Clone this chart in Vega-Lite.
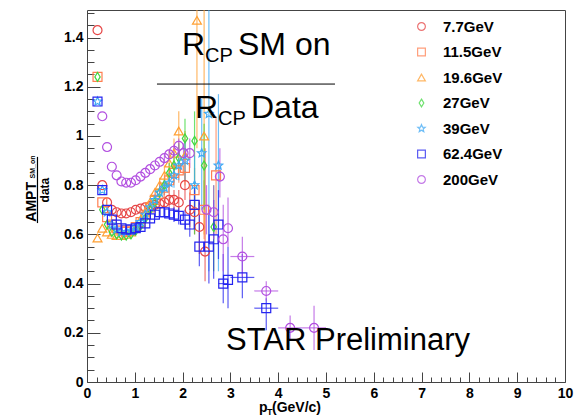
{
  "$schema": "https://vega.github.io/schema/vega-lite/v6.json",
  "width": 478,
  "height": 372,
  "autosize": {"type": "none"},
  "padding": {"left": 87, "top": 10, "right": 9, "bottom": 34},
  "background": "white",
  "config": {
    "view": {"stroke": "#444", "strokeWidth": 1},
    "font": "Liberation Sans",
    "axis": {"grid": false, "domain": false, "tickColor": "#444", "labelFont": "Liberation Sans", "labelFontWeight": "bold", "labelFontSize": 14, "labelColor": "#000", "title": null},
    "legend": {"title": null, "orient": "none", "legendX": 327, "legendY": 9, "labelFontSize": 15, "labelFont": "Liberation Sans", "labelFontWeight": "bold", "labelColor": "#000", "symbolSize": 60, "symbolStrokeWidth": 1.2, "rowPadding": 9.5, "labelOffset": 14, "padding": 0, "labelLimit": 200}
  },
  "data": {"values": [
    {"s":"7.7GeV","x":0.22,"y":1.43},{"s":"7.7GeV","x":0.32,"y":0.80},{"s":"7.7GeV","x":0.42,"y":0.73},{"s":"7.7GeV","x":0.52,"y":0.70},{"s":"7.7GeV","x":0.62,"y":0.69},{"s":"7.7GeV","x":0.72,"y":0.685},{"s":"7.7GeV","x":0.82,"y":0.685},{"s":"7.7GeV","x":0.92,"y":0.69},{"s":"7.7GeV","x":1.02,"y":0.70},{"s":"7.7GeV","x":1.12,"y":0.705},{"s":"7.7GeV","x":1.22,"y":0.71},{"s":"7.7GeV","x":1.32,"y":0.715},{"s":"7.7GeV","x":1.42,"y":0.72},{"s":"7.7GeV","x":1.52,"y":0.725,"ylo":0.71,"yhi":0.74},{"s":"7.7GeV","x":1.62,"y":0.73,"ylo":0.71,"yhi":0.75},{"s":"7.7GeV","x":1.72,"y":0.74,"ylo":0.71,"yhi":0.77},{"s":"7.7GeV","x":1.82,"y":0.74,"ylo":0.70,"yhi":0.78},{"s":"7.7GeV","x":1.92,"y":0.73,"ylo":0.68,"yhi":0.78},{"s":"7.7GeV","x":2.05,"y":0.80,"ylo":0.74,"yhi":0.86},{"s":"7.7GeV","x":2.15,"y":0.70,"ylo":0.63,"yhi":0.77},{"s":"7.7GeV","x":2.25,"y":0.69,"ylo":0.60,"yhi":0.78},{"s":"7.7GeV","x":2.35,"y":0.63,"ylo":0.52,"yhi":0.74},{"s":"7.7GeV","x":2.47,"y":0.53,"ylo":0.41,"yhi":0.95},
    {"s":"11.5GeV","x":0.22,"y":1.24},{"s":"11.5GeV","x":0.32,"y":0.73},{"s":"11.5GeV","x":0.42,"y":0.67},{"s":"11.5GeV","x":0.52,"y":0.64},{"s":"11.5GeV","x":0.62,"y":0.625},{"s":"11.5GeV","x":0.72,"y":0.615},{"s":"11.5GeV","x":0.82,"y":0.61},{"s":"11.5GeV","x":0.92,"y":0.615},{"s":"11.5GeV","x":1.02,"y":0.63},{"s":"11.5GeV","x":1.12,"y":0.65},{"s":"11.5GeV","x":1.22,"y":0.68},{"s":"11.5GeV","x":1.32,"y":0.71},{"s":"11.5GeV","x":1.42,"y":0.74},{"s":"11.5GeV","x":1.52,"y":0.765,"ylo":0.745,"yhi":0.785},{"s":"11.5GeV","x":1.62,"y":0.79,"ylo":0.76,"yhi":0.82},{"s":"11.5GeV","x":1.72,"y":0.82,"ylo":0.79,"yhi":0.85},{"s":"11.5GeV","x":1.82,"y":0.85,"ylo":0.81,"yhi":0.89},{"s":"11.5GeV","x":1.92,"y":0.86,"ylo":0.81,"yhi":0.91},{"s":"11.5GeV","x":2.05,"y":0.87,"ylo":0.80,"yhi":0.94},{"s":"11.5GeV","x":2.25,"y":0.78,"ylo":0.69,"yhi":0.87},{"s":"11.5GeV","x":2.45,"y":0.70,"ylo":0.58,"yhi":0.82},{"s":"11.5GeV","x":2.7,"y":0.84,"ylo":0.60,"yhi":1.08},
    {"s":"19.6GeV","x":0.22,"y":0.585},{"s":"19.6GeV","x":0.32,"y":0.625},{"s":"19.6GeV","x":0.42,"y":0.61},{"s":"19.6GeV","x":0.52,"y":0.60},{"s":"19.6GeV","x":0.62,"y":0.595},{"s":"19.6GeV","x":0.72,"y":0.595},{"s":"19.6GeV","x":0.82,"y":0.60},{"s":"19.6GeV","x":0.92,"y":0.61},{"s":"19.6GeV","x":1.02,"y":0.63},{"s":"19.6GeV","x":1.12,"y":0.66},{"s":"19.6GeV","x":1.22,"y":0.69},{"s":"19.6GeV","x":1.32,"y":0.73},{"s":"19.6GeV","x":1.42,"y":0.77},{"s":"19.6GeV","x":1.52,"y":0.80,"ylo":0.77,"yhi":0.83},{"s":"19.6GeV","x":1.62,"y":0.84,"ylo":0.80,"yhi":0.88},{"s":"19.6GeV","x":1.72,"y":0.89,"ylo":0.84,"yhi":0.94},{"s":"19.6GeV","x":1.82,"y":0.93,"ylo":0.87,"yhi":0.99},{"s":"19.6GeV","x":1.92,"y":1.02,"ylo":0.94,"yhi":1.10},{"s":"19.6GeV","x":2.05,"y":0.92,"ylo":0.82,"yhi":1.02},{"s":"19.6GeV","x":2.3,"y":1.47,"ylo":0.95,"yhi":1.6},{"s":"19.6GeV","x":2.45,"y":1.00,"ylo":0.6,"yhi":1.6},
    {"s":"27GeV","x":0.22,"y":1.24},{"s":"27GeV","x":0.32,"y":0.70},{"s":"27GeV","x":0.42,"y":0.64},{"s":"27GeV","x":0.52,"y":0.61},{"s":"27GeV","x":0.62,"y":0.60},{"s":"27GeV","x":0.72,"y":0.595},{"s":"27GeV","x":0.82,"y":0.595},{"s":"27GeV","x":0.92,"y":0.60},{"s":"27GeV","x":1.02,"y":0.615},{"s":"27GeV","x":1.12,"y":0.635},{"s":"27GeV","x":1.22,"y":0.665},{"s":"27GeV","x":1.32,"y":0.70},{"s":"27GeV","x":1.42,"y":0.73},{"s":"27GeV","x":1.52,"y":0.77,"ylo":0.75,"yhi":0.79},{"s":"27GeV","x":1.62,"y":0.80,"ylo":0.77,"yhi":0.83},{"s":"27GeV","x":1.72,"y":0.85,"ylo":0.81,"yhi":0.89},{"s":"27GeV","x":1.82,"y":0.88,"ylo":0.83,"yhi":0.93},{"s":"27GeV","x":1.92,"y":0.91,"ylo":0.85,"yhi":0.97},{"s":"27GeV","x":2.05,"y":0.99,"ylo":0.91,"yhi":1.07},{"s":"27GeV","x":2.25,"y":0.98,"ylo":0.60,"yhi":1.10},{"s":"27GeV","x":2.45,"y":0.88,"ylo":0.70,"yhi":1.05},{"s":"27GeV","x":2.65,"y":0.63,"ylo":0.45,"yhi":0.80},
    {"s":"39GeV","x":0.22,"y":1.14},{"s":"39GeV","x":0.32,"y":0.78},{"s":"39GeV","x":0.42,"y":0.69},{"s":"39GeV","x":0.52,"y":0.64},{"s":"39GeV","x":0.62,"y":0.62},{"s":"39GeV","x":0.72,"y":0.61},{"s":"39GeV","x":0.82,"y":0.61},{"s":"39GeV","x":0.92,"y":0.615},{"s":"39GeV","x":1.02,"y":0.63},{"s":"39GeV","x":1.12,"y":0.65},{"s":"39GeV","x":1.22,"y":0.68},{"s":"39GeV","x":1.32,"y":0.71},{"s":"39GeV","x":1.42,"y":0.74},{"s":"39GeV","x":1.52,"y":0.77,"ylo":0.75,"yhi":0.79},{"s":"39GeV","x":1.62,"y":0.79,"ylo":0.76,"yhi":0.82},{"s":"39GeV","x":1.72,"y":0.81,"ylo":0.77,"yhi":0.85},{"s":"39GeV","x":1.82,"y":0.84,"ylo":0.79,"yhi":0.89},{"s":"39GeV","x":1.92,"y":0.88,"ylo":0.82,"yhi":0.94},{"s":"39GeV","x":2.05,"y":0.90,"ylo":0.82,"yhi":0.98},{"s":"39GeV","x":2.25,"y":0.80,"ylo":0.68,"yhi":0.92},{"s":"39GeV","x":2.4,"y":0.93,"ylo":0.70,"yhi":1.15},{"s":"39GeV","x":2.55,"y":1.09,"ylo":0.45,"yhi":1.6},{"s":"39GeV","x":2.75,"y":0.88,"ylo":0.45,"yhi":1.17},
    {"s":"62.4GeV","x":0.22,"y":1.14},{"s":"62.4GeV","x":0.32,"y":0.78},{"s":"62.4GeV","x":0.42,"y":0.70},{"s":"62.4GeV","x":0.52,"y":0.66},{"s":"62.4GeV","x":0.62,"y":0.64},{"s":"62.4GeV","x":0.72,"y":0.625},{"s":"62.4GeV","x":0.82,"y":0.62},{"s":"62.4GeV","x":0.92,"y":0.62},{"s":"62.4GeV","x":1.02,"y":0.625},{"s":"62.4GeV","x":1.12,"y":0.63},{"s":"62.4GeV","x":1.22,"y":0.645},{"s":"62.4GeV","x":1.32,"y":0.665},{"s":"62.4GeV","x":1.42,"y":0.68},{"s":"62.4GeV","x":1.52,"y":0.69},{"s":"62.4GeV","x":1.62,"y":0.69,"ylo":0.67,"yhi":0.71},{"s":"62.4GeV","x":1.72,"y":0.685,"ylo":0.66,"yhi":0.71},{"s":"62.4GeV","x":1.82,"y":0.68,"ylo":0.65,"yhi":0.71},{"s":"62.4GeV","x":1.92,"y":0.675,"ylo":0.64,"yhi":0.71},{"s":"62.4GeV","x":2.05,"y":0.66,"ylo":0.62,"yhi":0.70},{"s":"62.4GeV","x":2.15,"y":0.64,"ylo":0.59,"yhi":0.69},{"s":"62.4GeV","x":2.25,"y":0.72,"ylo":0.65,"yhi":0.79},{"s":"62.4GeV","x":2.35,"y":0.55,"ylo":0.47,"yhi":0.73},{"s":"62.4GeV","x":2.55,"y":0.55,"ylo":0.40,"yhi":0.70},{"s":"62.4GeV","x":2.65,"y":0.58,"ylo":0.42,"yhi":0.74},{"s":"62.4GeV","x":2.75,"y":0.64,"ylo":0.50,"yhi":0.78},{"s":"62.4GeV","x":2.85,"y":0.40,"ylo":0.32,"yhi":0.52,"xlo":2.75,"xhi":2.95},{"s":"62.4GeV","x":2.95,"y":0.415,"ylo":0.30,"yhi":0.55},{"s":"62.4GeV","x":3.25,"y":0.425,"ylo":0.34,"yhi":0.52,"xlo":3.0,"xhi":3.5},{"s":"62.4GeV","x":3.75,"y":0.30,"ylo":0.21,"yhi":0.34,"xlo":3.5,"xhi":4.0},
    {"s":"200GeV","x":0.32,"y":1.08},{"s":"200GeV","x":0.42,"y":0.955},{"s":"200GeV","x":0.52,"y":0.875},{"s":"200GeV","x":0.62,"y":0.84},{"s":"200GeV","x":0.72,"y":0.815},{"s":"200GeV","x":0.82,"y":0.81},{"s":"200GeV","x":0.92,"y":0.81},{"s":"200GeV","x":1.02,"y":0.82},{"s":"200GeV","x":1.12,"y":0.835},{"s":"200GeV","x":1.22,"y":0.85},{"s":"200GeV","x":1.32,"y":0.865},{"s":"200GeV","x":1.42,"y":0.88},{"s":"200GeV","x":1.52,"y":0.895},{"s":"200GeV","x":1.62,"y":0.91,"ylo":0.895,"yhi":0.925},{"s":"200GeV","x":1.72,"y":0.925,"ylo":0.905,"yhi":0.945},{"s":"200GeV","x":1.82,"y":0.94,"ylo":0.915,"yhi":0.965},{"s":"200GeV","x":1.92,"y":0.96,"ylo":0.93,"yhi":0.99},{"s":"200GeV","x":2.02,"y":0.93,"ylo":0.89,"yhi":0.97},{"s":"200GeV","x":2.15,"y":0.93,"ylo":0.87,"yhi":0.99},{"s":"200GeV","x":2.5,"y":0.70,"ylo":0.60,"yhi":0.80},{"s":"200GeV","x":2.65,"y":0.69,"ylo":0.58,"yhi":0.80},{"s":"200GeV","x":2.78,"y":0.835,"ylo":0.75,"yhi":0.95},{"s":"200GeV","x":2.85,"y":0.58,"ylo":0.45,"yhi":0.72},{"s":"200GeV","x":2.95,"y":0.625,"ylo":0.55,"yhi":0.75},{"s":"200GeV","x":3.25,"y":0.51,"ylo":0.43,"yhi":0.59,"xlo":3.0,"xhi":3.5},{"s":"200GeV","x":3.75,"y":0.37,"ylo":0.33,"yhi":0.41,"xlo":3.5,"xhi":4.0},{"s":"200GeV","x":4.25,"y":0.22,"ylo":0.17,"yhi":0.27,"xlo":4.0,"xhi":4.5},{"s":"200GeV","x":4.75,"y":0.22,"ylo":0.13,"yhi":0.31,"xlo":4.5,"xhi":5.0}
  ]},
  "layer": [
    {
      "mark": {"type": "point", "opacity": 0},
      "encoding": {
        "x": {"field": "x", "type": "quantitative", "scale": {"domain": [0, 10], "nice": false, "zero": false},
              "axis": {"orient": "bottom", "labels": false, "tickSize": -5, "values": [0.2,0.4,0.6,0.8,1.2,1.4,1.6,1.8,2.2,2.4,2.6,2.8,3.2,3.4,3.6,3.8,4.2,4.4,4.6,4.8,5.2,5.4,5.6,5.8,6.2,6.4,6.6,6.8,7.2,7.4,7.6,7.8,8.2,8.4,8.6,8.8,9.2,9.4,9.6,9.8]}},
        "y": {"field": "y", "type": "quantitative", "scale": {"domain": [0, 1.512], "nice": false, "zero": false},
              "axis": {"orient": "left", "labels": false, "tickSize": -7, "values": [0.05,0.1,0.15,0.25,0.3,0.35,0.45,0.5,0.55,0.65,0.7,0.75,0.85,0.9,0.95,1.05,1.1,1.15,1.25,1.3,1.35,1.45,1.5]}}
      }
    },
    {
      "mark": {"type": "point", "opacity": 0},
      "encoding": {
        "x": {"field": "x", "type": "quantitative", "axis": {"orient": "bottom", "tickSize": -10, "labelPadding": 14, "values": [0,1,2,3,4,5,6,7,8,9,10], "labelFlush": false}},
        "y": {"field": "y", "type": "quantitative", "axis": {"orient": "left", "tickSize": -13, "labelPadding": 17, "values": [0,0.2,0.4,0.6,0.8,1,1.2,1.4], "format": "~g"}}
      }
    },
    {
      "transform": [{"filter": "isValid(datum.ylo)"}],
      "mark": {"type": "rule", "clip": true, "strokeWidth": 1.2, "opacity": 0.75},
      "encoding": {
        "x": {"field": "x", "type": "quantitative", "axis": null},
        "y": {"field": "ylo", "type": "quantitative", "axis": null},
        "y2": {"field": "yhi"},
        "color": {"field": "s", "type": "nominal",
                  "scale": {"domain": ["7.7GeV","11.5GeV","19.6GeV","27GeV","39GeV","62.4GeV","200GeV"], "range": ["#e64646","#ff7f50","#ffa033","#3fd83f","#3fa9f5","#2424f0","#b24fe0"]}}
      }
    },
    {
      "transform": [{"filter": "isValid(datum.xlo)"}],
      "mark": {"type": "rule", "clip": true, "strokeWidth": 1.2, "opacity": 0.75},
      "encoding": {
        "x": {"field": "xlo", "type": "quantitative", "axis": null},
        "x2": {"field": "xhi"},
        "y": {"field": "y", "type": "quantitative", "axis": null},
        "color": {"field": "s", "type": "nominal"}
      }
    },
    {
      "mark": {"type": "point", "filled": false, "size": 80, "strokeWidth": 1.2, "clip": true, "opacity": 1},
      "encoding": {
        "x": {"field": "x", "type": "quantitative", "axis": null},
        "y": {"field": "y", "type": "quantitative", "axis": null},
        "color": {"field": "s", "type": "nominal"},
        "shape": {"field": "s", "type": "nominal",
                  "scale": {"domain": ["7.7GeV","11.5GeV","19.6GeV","27GeV","39GeV","62.4GeV","200GeV"], "range": ["circle","square","triangle-up","M0,-1L0.6,0L0,1L-0.6,0Z","M0,-1L0.2645,-0.364L0.951,-0.309L0.428,0.139L0.588,0.809L0,0.45L-0.588,0.809L-0.428,0.139L-0.951,-0.309L-0.2645,-0.364Z","square","circle"]}}
      }
    },
    {"data": {"values": [{}]}, "mark": {"type": "text", "text": "R", "fontSize": 32, "align": "left", "baseline": "alphabetic", "font": "Liberation Sans"}, "encoding": {"x": {"datum": 1.987, "axis": null}, "y": {"datum": 1.329, "axis": null}}},
    {"data": {"values": [{}]}, "mark": {"type": "text", "text": "CP", "fontSize": 20, "align": "left", "baseline": "alphabetic", "font": "Liberation Sans"}, "encoding": {"x": {"datum": 2.469, "axis": null}, "y": {"datum": 1.301, "axis": null}}},
    {"data": {"values": [{}]}, "mark": {"type": "text", "text": "SM on", "fontSize": 32, "align": "left", "baseline": "alphabetic", "font": "Liberation Sans"}, "encoding": {"x": {"datum": 3.159, "axis": null}, "y": {"datum": 1.329, "axis": null}}},
    {"data": {"values": [{}]}, "mark": {"type": "rule", "color": "#000", "strokeWidth": 1}, "encoding": {"x": {"datum": 1.464, "axis": null}, "x2": {"datum": 5.188}, "y": {"datum": 1.211, "axis": null}}},
    {"data": {"values": [{}]}, "mark": {"type": "text", "text": "R", "fontSize": 32, "align": "left", "baseline": "alphabetic", "font": "Liberation Sans"}, "encoding": {"x": {"datum": 2.259, "axis": null}, "y": {"datum": 1.073, "axis": null}}},
    {"data": {"values": [{}]}, "mark": {"type": "text", "text": "CP", "fontSize": 20, "align": "left", "baseline": "alphabetic", "font": "Liberation Sans"}, "encoding": {"x": {"datum": 2.741, "axis": null}, "y": {"datum": 1.045, "axis": null}}},
    {"data": {"values": [{}]}, "mark": {"type": "text", "text": "Data", "fontSize": 32, "align": "left", "baseline": "alphabetic", "font": "Liberation Sans"}, "encoding": {"x": {"datum": 3.431, "axis": null}, "y": {"datum": 1.073, "axis": null}}},
    {"data": {"values": [{}]}, "mark": {"type": "text", "text": "STAR Preliminary", "fontSize": 31, "align": "left", "baseline": "alphabetic", "font": "Liberation Sans"}, "encoding": {"x": {"datum": 2.908, "axis": null}, "y": {"datum": 0.13, "axis": null}}},
    {"data": {"values": [{}]}, "mark": {"type": "text", "text": "AMPT", "fontSize": 14, "fontWeight": "bold", "angle": 270, "align": "center", "baseline": "middle", "font": "Liberation Sans"}, "encoding": {"x": {"datum": -1.15, "axis": null}, "y": {"datum": 0.732, "axis": null}}},
    {"data": {"values": [{}]}, "mark": {"type": "text", "text": "SM_on", "fontSize": 7, "fontWeight": "bold", "angle": 270, "align": "center", "baseline": "middle", "font": "Liberation Sans"}, "encoding": {"x": {"datum": -1.13, "axis": null}, "y": {"datum": 0.874, "axis": null}}},
    {"data": {"values": [{}]}, "mark": {"type": "rule", "color": "#000", "strokeWidth": 1.2}, "encoding": {"x": {"datum": -1.036, "axis": null}, "y": {"datum": 0.915, "axis": null}, "y2": {"datum": 0.646}}},
    {"data": {"values": [{}]}, "mark": {"type": "text", "text": "data", "fontSize": 12, "fontWeight": "bold", "angle": 270, "align": "center", "baseline": "middle", "font": "Liberation Sans"}, "encoding": {"x": {"datum": -0.889, "axis": null}, "y": {"datum": 0.78, "axis": null}}},
    {"data": {"values": [{}]}, "mark": {"type": "text", "text": "p", "fontSize": 14, "fontWeight": "bold", "align": "left", "baseline": "alphabetic", "font": "Liberation Sans"}, "encoding": {"x": {"datum": 3.598, "axis": null}, "y": {"datum": -0.122, "axis": null}}},
    {"data": {"values": [{}]}, "mark": {"type": "text", "text": "T", "fontSize": 9, "fontWeight": "bold", "align": "left", "baseline": "alphabetic", "font": "Liberation Sans"}, "encoding": {"x": {"datum": 3.766, "axis": null}, "y": {"datum": -0.134, "axis": null}}},
    {"data": {"values": [{}]}, "mark": {"type": "text", "text": "(GeV/c)", "fontSize": 14, "fontWeight": "bold", "align": "left", "baseline": "alphabetic", "font": "Liberation Sans"}, "encoding": {"x": {"datum": 3.87, "axis": null}, "y": {"datum": -0.122, "axis": null}}}
  ],
  "resolve": {"axis": {"x": "independent", "y": "independent"}}
}
